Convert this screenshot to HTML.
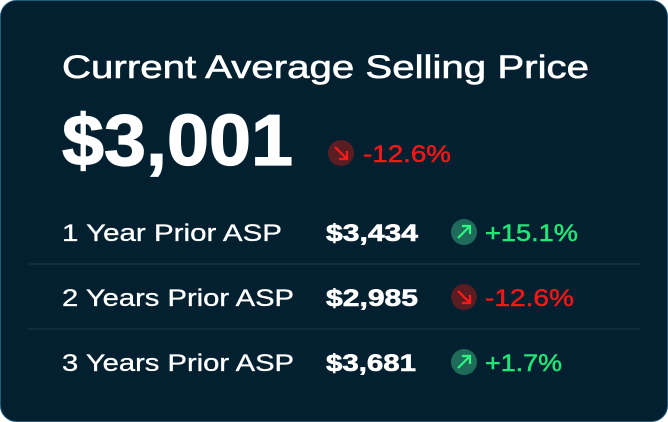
<!DOCTYPE html>
<html><head><meta charset="utf-8"><style>
html,body{margin:0;padding:0;background:#fff;width:668px;height:422px;overflow:hidden}
svg{display:block;font-family:"Liberation Sans",sans-serif}
</style></head><body>
<svg width="668" height="422">
<rect x="0.5" y="0.5" width="667" height="421" rx="16" fill="#02202f" stroke="#1e5a7a"/>
<text x="62" y="78" font-size="32" fill="#fff" stroke="#fff" stroke-width="0.6" textLength="527" lengthAdjust="spacingAndGlyphs">Current Average Selling Price</text>
<text x="62" y="165" font-size="72" font-weight="bold" fill="#fff" stroke="#fff" stroke-width="1.2" textLength="231" lengthAdjust="spacingAndGlyphs">$3,001</text>
<g>
<circle cx="341" cy="153" r="13" fill="#5a1d22"/>
<path d="M335 147 L347 159 M347 151 L347 159 L339 159" stroke="#ff1a1a" stroke-width="2.2" fill="none"/>
</g>
<text x="363" y="162" font-size="24" fill="#f01818" stroke="#f01818" stroke-width="0.5" textLength="88" lengthAdjust="spacingAndGlyphs">-12.6%</text>
<line x1="28" y1="264" x2="640" y2="264" stroke="#1d3a48"/>
<line x1="28" y1="329" x2="640" y2="329" stroke="#1d3a48"/>
<g id="rows"></g>
</svg>
<script>
const labels=["1 Year Prior ASP","2 Years Prior ASP","3 Years Prior ASP"];
const values=["$3,434","$2,985","$3,681"];
const changes=["+15.1%","-12.6%","+1.7%"];
const ns="http://www.w3.org/2000/svg";
const g=document.getElementById('rows');
const lw=[220,232,232],vw=[92,92,90],cw=[93,89,77];
labels.forEach((l,i)=>{
  const y=241+i*65, cy=232+i*65, up=changes[i][0]==='+';
  const mk=(x,w,txt,bold,col,sw,name)=>{const e=document.createElementNS(ns,'text');e.setAttribute('x',x);e.setAttribute('y',y);e.setAttribute('font-size',24);if(bold)e.setAttribute('font-weight','bold');e.setAttribute('fill',col);e.setAttribute('stroke',col);e.setAttribute('stroke-width',sw);e.setAttribute('textLength',w);e.setAttribute('lengthAdjust','spacingAndGlyphs');e.textContent=txt;
    
    
    g.appendChild(e);};
  mk(62,lw[i],l,false,'#fff',0.3,'row-label');
  mk(326,vw[i],values[i],true,'#fff',0.6,'row-value');
  const c=document.createElementNS(ns,'g');
  
  
  const ci=document.createElementNS(ns,'circle');ci.setAttribute('cx',464);ci.setAttribute('cy',cy);ci.setAttribute('r',13);ci.setAttribute('fill',up?'#1f6b5a':'#5a1d22');c.appendChild(ci);
  const p=document.createElementNS(ns,'path');
  p.setAttribute('d',up?`M458 ${cy+6} L470 ${cy-6} M462 ${cy-6} L470 ${cy-6} L470 ${cy+2}`:`M458 ${cy-6} L470 ${cy+6} M470 ${cy-2} L470 ${cy+6} L462 ${cy+6}`);
  p.setAttribute('stroke',up?'#2df57f':'#ff1a1a');p.setAttribute('stroke-width',2.2);p.setAttribute('fill','none');c.appendChild(p);
  g.appendChild(c);
  mk(485,cw[i],changes[i],false,up?'#22e577':'#f01818',0.5,'row-change');
});
</script>
</body></html>
